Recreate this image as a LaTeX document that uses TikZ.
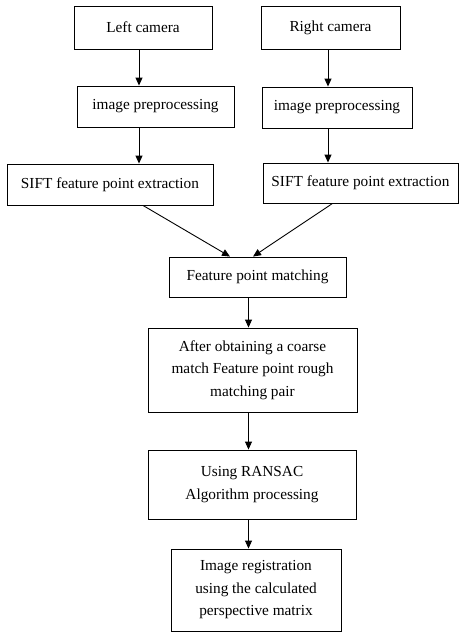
\documentclass[tikz,border=0pt]{standalone}
\usepackage{fontspec}
\setmainfont{Liberation Serif}
\usetikzlibrary{arrows.meta, positioning}

\begin{document}
\begin{tikzpicture}
[x=1pt, y=-1pt,
 ->/.style={line width=0.9pt, arrows={-Triangle[length=8pt,width=7pt]}},
   stepB/.style={shape=rectangle, draw, line width=0.9pt, inner sep=0pt, align=center,
     font=\fontsize{15.3}{22.5}\selectfont}]
\useasboundingbox (0,0) rectangle (459,632);
\node[stepB, minimum width=138pt, minimum height=43pt] (LC) at (143,27.5) {Left camera};
\node[stepB, minimum width=139pt, minimum height=43pt] (RC) at (330.5,27.5) {Right camera};
\node[stepB, minimum width=157pt, minimum height=41pt] (LP) at (155.5,106.5) {image preprocessing};
\node[stepB, minimum width=150pt, minimum height=41pt] (RP) at (337,107.5) {image preprocessing};
\node[stepB, minimum width=206pt, minimum height=41pt] (LS) at (110,184.5) {SIFT feature point extraction};
\node[stepB, minimum width=195pt, minimum height=40pt] (RS) at (360.5,183) {SIFT feature point extraction};
\node[stepB, minimum width=177pt, minimum height=40pt] (FM) at (257.5,277) {Feature point matching};
\node[stepB, minimum width=209pt, minimum height=84pt] (CM) at (252.5,370)
{After obtaining a coarse \\ match Feature point rough \\ matching pair};
\node[stepB, minimum width=208pt, minimum height=69pt] (RA) at (252,484.5)
{Using RANSAC \\ Algorithm processing};
\node[stepB, minimum width=170pt, minimum height=82pt] (IR) at (256,590)
{Image registration \\ using the calculated \\ perspective matrix};
\coordinate [left=4pt of LC.south] (LCs);
\coordinate [left=2.5pt of RC.south] (RCs);
\draw [->] (LCs) -- (LCs |- LP.north);
\draw [->] (RCs) -- (RCs |- RP.north);
\draw [->] (LCs |- LP.south) -- (LCs |- LS.north);
\draw [->] (RCs |- RP.south) -- (RCs |- RS.north);
\coordinate [right=33pt of LS.south] (LSs);
\coordinate [left=28pt of RS.south] (RSs);
\coordinate [left=27.5pt of FM.north] (FMn1);
\coordinate [left=4.5pt of FM.north] (FMn2);
\draw [->] (LSs) -- (FMn1);
\draw [->] (RSs) -- (FMn2);
\coordinate [left=9pt of FM.south] (FMs);
\draw [->] (FMs) -- (FMs |- CM.north);
\draw [->] (FMs |- CM.south) -- (FMs |- RA.north);
\draw [->] (FMs |- RA.south) -- (FMs |- IR.north);
\end{tikzpicture}
\end{document}
